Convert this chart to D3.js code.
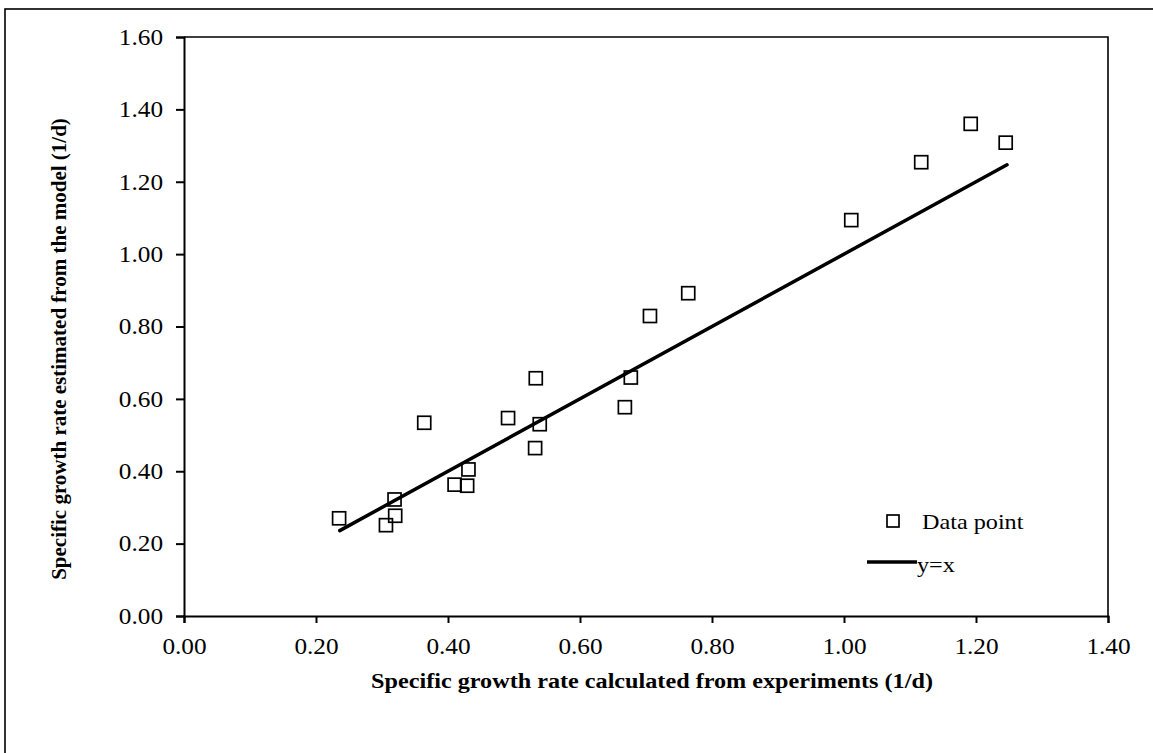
<!DOCTYPE html>
<meta charset="utf-8">
<title>Specific growth rate: model vs experiments</title>
<script src="https://d3js.org/d3.v7.min.js"></script>
<style>
  body { margin: 0; background: white; }
  svg { display: block; font-family: "Liberation Serif", "Times New Roman", serif; }
  .tick text { font-size: 23px; fill: #000; }
</style>
<body>
<div id="chart"></div>
<script>
// values
var measured  = [0.235, 0.319, 0.320, 0.306, 0.364, 0.431, 0.410, 0.429, 0.491, 0.533,
                 0.539, 0.532, 0.764, 0.706, 0.677, 0.668, 1.011, 1.117, 1.192, 1.245];
var estimated = [0.270, 0.322, 0.277, 0.251, 0.534, 0.405, 0.363, 0.360, 0.547, 0.657,
                 0.530, 0.464, 0.892, 0.829, 0.659, 0.577, 1.094, 1.254, 1.360, 1.308];
var lineX = [0.236, 1.247];
var xTicks = [0, 0.2, 0.4, 0.6, 0.8, 1.0, 1.2, 1.4];
var yTicks = [0, 0.2, 0.4, 0.6, 0.8, 1.0, 1.2, 1.4, 1.6];
var xTitle = "Specific growth rate calculated from experiments (1/d)";
var yTitle = "Specific growth rate estimated from the model (1/d)";

var W = 1153, H = 753;
var margin = {top: 37, right: 45, bottom: 137, left: 184},
    width = W - margin.left - margin.right,
    height = H - margin.top - margin.bottom;
var stretch = "scale(1.1,1)";   // the original text is a little wide

var svg = d3.select("#chart").append("svg")
    .attr("width", W)
    .attr("height", H);

// outer frame (runs off the right and bottom edges)
svg.append("rect")
    .attr("x", 5).attr("y", 9)
    .attr("width", W + 20).attr("height", H + 20)
    .attr("fill", "none")
    .attr("stroke", "#000")
    .attr("stroke-width", 1.6);

var g = svg.append("g")
    .attr("transform", "translate(" + margin.left + "," + margin.top + ")");

var x = d3.scaleLinear().domain([0, 1.4]).range([0, width]);
var y = d3.scaleLinear().domain([0, 1.6]).range([height, 0]);

// plot box top and right
g.append("path")
    .attr("d", "M0,0H" + width + "V" + height)
    .attr("fill", "none")
    .attr("stroke", "#000")
    .attr("stroke-width", 1.6);

var xAxis = g.append("g")
    .attr("transform", "translate(0," + height + ")")
    .call(d3.axisBottom(x).tickValues(xTicks).tickFormat(d3.format(".2f")).tickSizeOuter(0).tickSize(7).tickPadding(15));
var yAxis = g.append("g")
    .call(d3.axisLeft(y).tickValues(yTicks).tickFormat(d3.format(".2f")).tickSizeOuter(0).tickSize(8).tickPadding(11));

[xAxis, yAxis].forEach(function(a) {
  a.select(".domain").attr("stroke-width", 2);
  a.selectAll(".tick line").attr("stroke-width", 2);
  a.selectAll(".tick text").attr("transform", stretch);
  a.attr("font-family", null).attr("font-size", null);
});

// y = x line
var line = d3.line()
    .x(function(d) { return x(d); })
    .y(function(d) { return y(d); });
g.append("path")
    .datum(lineX)
    .attr("d", line)
    .attr("fill", "none")
    .attr("stroke", "#000")
    .attr("stroke-width", 3.5)
    .attr("stroke-linecap", "round");

// data points
var s = 13;
g.selectAll("rect.pt")
    .data(measured)
  .enter().append("rect")
    .attr("class", "pt")
    .attr("x", function(d) { return x(d) - s / 2; })
    .attr("y", function(d, i) { return y(estimated[i]) - s / 2; })
    .attr("width", s)
    .attr("height", s)
    .attr("fill", "none")
    .attr("stroke", "#000")
    .attr("stroke-width", 1.7);

// axis titles
svg.append("text")
    .attr("transform", "translate(652,688) " + stretch)
    .attr("text-anchor", "middle")
    .attr("font-weight", "bold")
    .attr("font-size", 22)
    .text(xTitle);

svg.append("text")
    .attr("transform", "translate(66,349) rotate(-90)")
    .attr("text-anchor", "middle")
    .attr("font-weight", "bold")
    .attr("font-size", 21)
    .text(yTitle);

// legend
var lg = svg.append("g");
lg.append("rect")
    .attr("x", 887).attr("y", 515)
    .attr("width", 12).attr("height", 12)
    .attr("fill", "none")
    .attr("stroke", "#000")
    .attr("stroke-width", 1.7);
lg.append("text")
    .attr("transform", "translate(922,529) " + stretch)
    .attr("font-size", 22)
    .text("Data point");
lg.append("line")
    .attr("x1", 867).attr("x2", 917)
    .attr("y1", 562).attr("y2", 562)
    .attr("stroke", "#000")
    .attr("stroke-width", 3.5);
lg.append("text")
    .attr("transform", "translate(917,572) " + stretch)
    .attr("font-size", 22)
    .text("y=x");
</script>
</body>
